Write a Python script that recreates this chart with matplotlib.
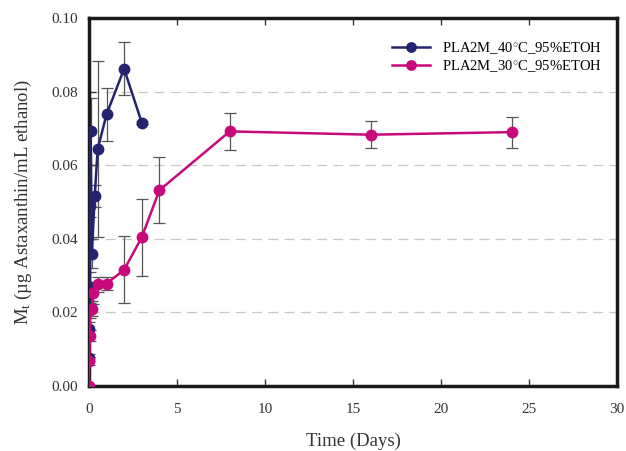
import matplotlib
matplotlib.use("Agg")
import matplotlib.pyplot as plt

# Release of astaxanthin from PLA2M into 95% ethanol
t_40 = [0.0, 0.02, 0.04, 0.06, 0.08, 0.1, 0.17, 0.33, 0.5, 1, 2, 3]
m_40 = [0.0077, 0.0155, 0.025, 0.027, 0.049, 0.0692, 0.036, 0.0516, 0.0644, 0.0738, 0.0862, 0.0716]
e_40 = [0.001, 0.002, 0.003, 0.004, 0.003, 0.009, 0.004, 0.003, 0.024, 0.0073, 0.0072, 0.0005]

t_30 = [0.0, 0.02, 0.04, 0.08, 0.17, 0.25, 0.5, 1, 2, 3, 4, 8, 16, 24]
m_30 = [0.0, 0.0068, 0.0137, 0.0206, 0.021, 0.0254, 0.0276, 0.0278, 0.0316, 0.0404, 0.0532, 0.0692, 0.0683, 0.069]
e_30 = [0.0, 0.001, 0.0015, 0.002, 0.002, 0.003, 0.002, 0.0018, 0.0091, 0.0105, 0.009, 0.005, 0.0037, 0.0042]

label_40 = "PLA2M_40$^{\\circ}$C_95%ETOH"
label_30 = "PLA2M_30$^{\\circ}$C_95%ETOH"

x_ticks = [0, 5, 10, 15, 20, 25, 30]
y_ticks = [0.00, 0.02, 0.04, 0.06, 0.08, 0.10]

plt.rcParams["font.family"] = ["Liberation Serif", "DejaVu Serif"]
plt.rcParams["mathtext.fontset"] = "custom"
plt.rcParams["mathtext.rm"] = "Liberation Serif"
plt.rcParams["mathtext.it"] = "Liberation Serif"

fig = plt.figure(figsize=(6.26, 4.51), dpi=100)
ax = fig.add_axes([0.142, 0.144, 0.844, 0.816])

navy = "#24246e"
magenta = "#c8097c"
err_col = "#555555"

for t, m, e, c, lab in [(t_40, m_40, e_40, navy, label_40),
                        (t_30, m_30, e_30, magenta, label_30)]:
    ax.errorbar(t, m, yerr=e, fmt="none", ecolor=err_col, elinewidth=0.9,
                capsize=4, capthick=0.9, zorder=2)
    ax.plot(t, m, "-o", color=c, lw=1.8, ms=7.5, label=lab, zorder=3)

ax.set_xlim(0, 30)
ax.set_ylim(0, 0.10)
ax.set_xticks(x_ticks)
ax.set_yticks(y_ticks)
ax.set_yticklabels([f"{v:.2f}" for v in y_ticks])
ax.tick_params(direction="in", length=5, width=1, labelsize=11, colors="#333333",
               top=True, right=False, pad=8)
ax.tick_params(axis="x", pad=12)

for y in y_ticks[1:-1]:
    ax.axhline(y, color="#c8c8c8", lw=0.9, ls=(0, (8, 5)), zorder=1)

for s in ax.spines.values():
    s.set_linewidth(2.5)
    s.set_color("#1a1a1a")

ax.set_xlabel("Time (Days)", fontsize=13.5, color="#333333", labelpad=12)
ax.set_ylabel("M$_{\\mathregular{t}}$ (\u00b5g Astaxanthin/mL ethanol)", fontsize=13.5,
              color="#333333", labelpad=12)

ax.legend(loc="upper right", bbox_to_anchor=(0.995, 0.975), frameon=False, fontsize=10.5,
          handlelength=2.6, labelspacing=0.15, markerscale=0.9)

fig.savefig("out.png", dpi=100)
